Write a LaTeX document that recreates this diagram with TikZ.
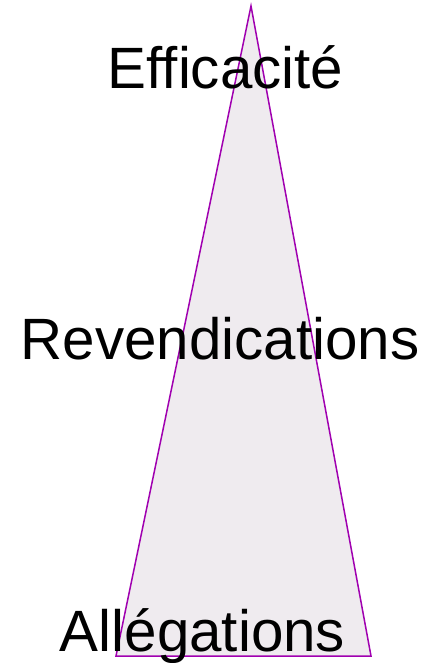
\documentclass[tikz,border=0pt]{standalone}
\usepackage{fontspec}
\setmainfont{Liberation Sans}
\usetikzlibrary{positioning}
\definecolor{PL}{HTML}{A000B0}
\definecolor{PF}{HTML}{EFEBEF}

\begin{document}
\begin{tikzpicture}[x=1pt,y=1pt]
        \useasboundingbox (0,0) rectangle (430,-663);
        \coordinate (top) at (251,-6);
        \coordinate (bl) at (116,-656);
        \coordinate (br) at (371,-656);
        \draw[draw=PL, fill=PF, line width=1.5pt, line join=miter]
          (top) -- (br) -- (bl) -- cycle;
        \node[anchor=base, inner sep=0pt, font=\fontsize{58.3}{70}\selectfont]
          (eff) at (225.5,-89) {Efficacit\'e};
        \node[anchor=base, inner sep=0pt, font=\fontsize{58.3}{70}\selectfont]
          (rev) at (220,-359) {Revendications};
        \node[anchor=base, inner sep=0pt, font=\fontsize{58.3}{70}\selectfont]
          (all) at (202.5,-651) {All\'egations};
      \end{tikzpicture}
\end{document}
